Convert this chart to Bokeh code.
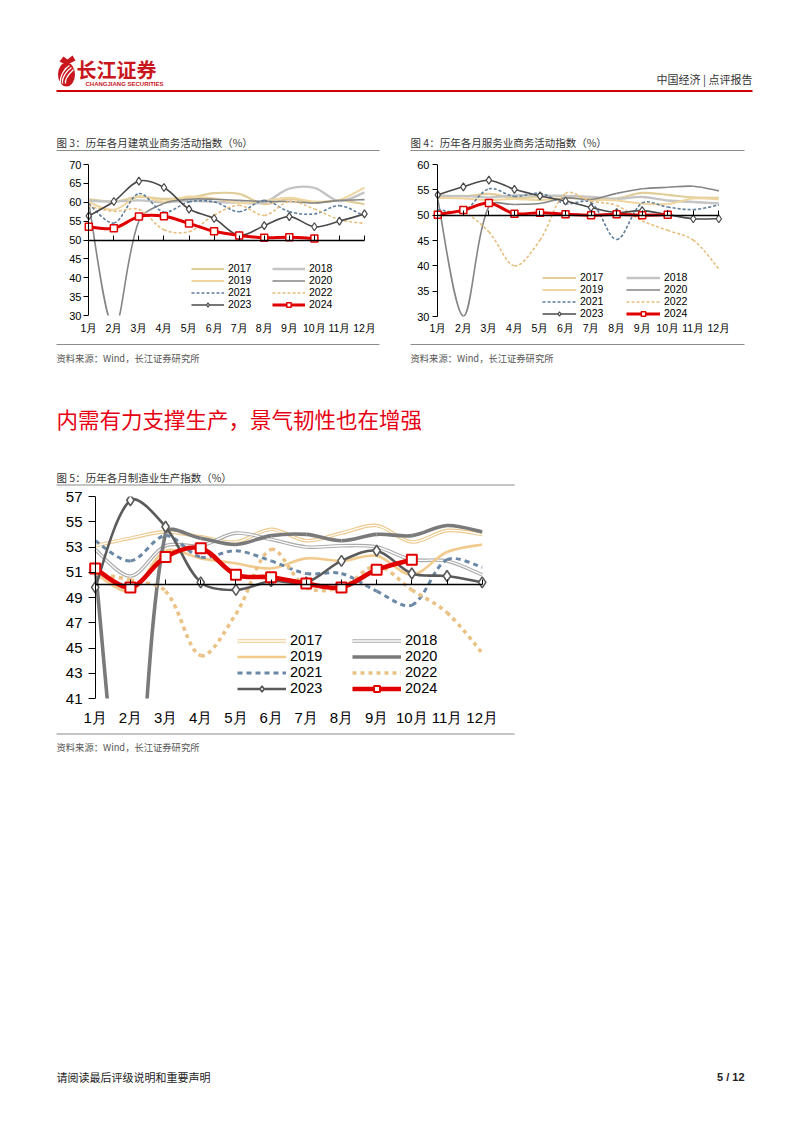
import math
from bokeh.plotting import figure
from bokeh.models import (Range1d, LinearAxis, FixedTicker, Legend, LegendItem,
                          ColumnDataSource, Spacer)
from bokeh.layouts import column, row
from bokeh.core.properties import value
from bokeh.embed import file_html
from bokeh.resources import INLINE

NAN = float("nan")

# ---------------- data ----------------
month_labels = ["1月", "2月", "3月", "4月", "5月", "6月",
                "7月", "8月", "9月", "10月", "11月", "12月"]
years = ["2017", "2018", "2019", "2020", "2021", "2022", "2023", "2024"]

# 图3 建筑业商务活动指数
con_2017 = [60.8, 60.2, 61.4, 60.9, 61.2, 62.4, 62.2, 59.5, 60.9, 59.9, 60.5, 59.5]
con_2018 = [60.4, 60.2, 60.5, 60.0, 60.4, 60.1, 59.9, 60.0, 63.6, 63.8, 60.3, 62.6]
con_2019 = [60.0, 58.0, 61.6, 60.2, 61.5, 61.0, 59.8, 60.3, 61.2, 60.2, 60.6, 63.9]
con_2020 = [59.7, 26.6, 55.1, 59.7, 60.8, 60.8, 60.5, 60.2, 60.2, 59.8, 60.5, 60.7]
con_2021 = [59.6, 54.5, 62.3, 57.4, 60.1, 60.1, 57.5, 60.5, 57.5, 56.9, 59.1, 56.3]
con_2022 = [59.0, 57.6, 58.1, 52.7, 52.2, 56.6, 59.2, 56.5, 60.2, 58.2, 55.4, 54.4]
con_2023 = [56.4, 60.2, 65.6, 63.9, 58.2, 55.7, 51.2, 53.8, 56.2, 53.5, 55.0, 56.9]
con_2024 = [53.5, 53.1, 56.2, 56.3, 54.4, 52.3, 51.2, 50.6, 50.7, 50.4]

# 图4 服务业商务活动指数
ser_2017 = [53.9, 53.7, 54.2, 53.4, 53.6, 53.8, 53.1, 53.3, 54.4, 54.0, 53.5, 53.4]
ser_2018 = [53.7, 53.8, 53.5, 53.9, 53.9, 53.8, 53.6, 53.2, 53.6, 52.9, 52.6, 52.3]
ser_2019 = [53.4, 53.3, 53.0, 53.2, 53.0, 53.4, 53.2, 52.9, 52.3, 52.2, 53.3, 53.1]
ser_2020 = [53.1, 30.1, 51.8, 52.1, 52.3, 53.4, 53.1, 54.3, 55.2, 55.5, 55.7, 54.8]
ser_2021 = [51.1, 50.8, 55.2, 53.7, 54.3, 52.3, 52.5, 45.2, 52.4, 51.6, 51.1, 52.0]
ser_2022 = [50.3, 50.5, 46.7, 40.0, 45.1, 54.3, 52.8, 51.9, 48.9, 47.0, 45.1, 39.4]
ser_2023 = [54.0, 55.6, 56.9, 55.1, 53.8, 52.8, 51.5, 50.5, 50.9, 50.1, 49.3, 49.3]
ser_2024 = [50.1, 51.0, 52.4, 50.3, 50.5, 50.2, 50.0, 50.2, 50.0, 50.1]

# 图5 制造业生产指数
pro_2017 = [53.1, 53.7, 54.2, 53.8, 53.4, 54.4, 53.5, 54.1, 54.7, 53.4, 54.3, 54.0]
pro_2018 = [52.8, 50.7, 53.1, 53.1, 54.1, 53.6, 53.0, 53.1, 53.0, 52.0, 51.9, 50.8]
pro_2019 = [50.9, 49.5, 52.7, 52.1, 51.7, 51.3, 52.1, 51.9, 52.3, 50.8, 52.6, 53.2]
pro_2020 = [51.3, 27.8, 54.1, 53.7, 53.2, 53.9, 54.0, 53.5, 54.0, 53.9, 54.7, 54.2]
pro_2021 = [53.5, 51.9, 53.9, 52.2, 52.7, 51.9, 50.9, 50.9, 49.5, 48.4, 52.0, 51.4]
pro_2022 = [50.9, 50.4, 49.5, 44.4, 47.7, 52.8, 49.8, 49.8, 51.5, 49.6, 47.8, 44.6]
pro_2023 = [49.8, 56.7, 54.6, 50.2, 49.6, 50.3, 50.2, 51.9, 52.7, 50.9, 50.7, 50.2]
pro_2024 = [51.3, 49.8, 52.2, 52.9, 50.8, 50.6, 50.1, 49.8, 51.2, 52.0]

con_ticks = [30, 35, 40, 45, 50, 55, 60, 65, 70]
ser_ticks = [30, 35, 40, 45, 50, 55, 60]
pro_ticks = [41, 43, 45, 47, 49, 51, 53, 55, 57]

construction = dict(zip(years, [con_2017, con_2018, con_2019, con_2020,
                                con_2021, con_2022, con_2023, con_2024]))
services = dict(zip(years, [ser_2017, ser_2018, ser_2019, ser_2020,
                            ser_2021, ser_2022, ser_2023, ser_2024]))
production = dict(zip(years, [pro_2017, pro_2018, pro_2019, pro_2020,
                              pro_2021, pro_2022, pro_2023, pro_2024]))

# ---------------- styles ----------------
CJK = "Noto Sans CJK SC"
LAT = "Liberation Sans"

small_styles = {
    "2017": dict(color="#E1CD98", width=2.2),
    "2018": dict(color="#C4C4C4", width=2.4),
    "2019": dict(color="#EFD6A0", width=2.0),
    "2020": dict(color="#858585", width=1.6),
    "2021": dict(color="#5E7D9A", width=1.6, dash="3 2"),
    "2022": dict(color="#E6BF7F", width=1.6, dash="3 2"),
    "2023": dict(color="#4A4A4A", width=1.6, marker="diamond", msize=8, mlw=1.2),
    "2024": dict(color="#E00000", width=3.0, marker="square", msize=7, mlw=1.5),
}
big_styles = {
    "2017": dict(color="#EDC98E", width=3.6, inner=1.3),
    "2018": dict(color="#ABABAB", width=3.6, inner=1.3),
    "2019": dict(color="#F1CA8C", width=2.6),
    "2020": dict(color="#7A7A7A", width=3.6),
    "2021": dict(color="#6A88A6", width=3.0, dash="5 4"),
    "2022": dict(color="#EBC286", width=3.6, dash="4 4"),
    "2023": dict(color="#5A5A5A", width=2.6, marker="diamond", msize=11, mlw=1.6),
    "2024": dict(color="#E00000", width=4.6, marker="square", msize=10, mlw=2.0),
}


def bezier_data(ys, sx, sy):
    """Smoothed-line rendering: Bezier control points from the monthly values
    (distance-weighted Catmull-Rom, like a spreadsheet 'smoothed line')."""
    xs = list(range(1, len(ys) + 1))
    n = len(ys)
    k = 1.0 / 3.0

    def dist(i, j):
        return math.hypot((xs[j] - xs[i]) * sx, (ys[j] - ys[i]) * sy)

    d = {key: [] for key in ("x0", "y0", "x1", "y1", "cx0", "cy0", "cx1", "cy1")}
    for i in range(n - 1):
        if i == 0:
            cx0 = xs[0] + (xs[1] - xs[0]) / 6.0
            cy0 = ys[0] + (ys[1] - ys[0]) / 6.0
        else:
            w = dist(i, i + 1) / (dist(i - 1, i) + dist(i, i + 1))
            cx0 = xs[i] + (xs[i + 1] - xs[i - 1]) * w * k
            cy0 = ys[i] + (ys[i + 1] - ys[i - 1]) * w * k
        if i + 1 == n - 1:
            cx1 = xs[i + 1] - (xs[i + 1] - xs[i]) / 6.0
            cy1 = ys[i + 1] - (ys[i + 1] - ys[i]) / 6.0
        else:
            w = dist(i, i + 1) / (dist(i, i + 1) + dist(i + 1, i + 2))
            cx1 = xs[i + 1] - (xs[i + 2] - xs[i]) * w * k
            cy1 = ys[i + 1] - (ys[i + 2] - ys[i]) * w * k
        d["x0"].append(xs[i]); d["y0"].append(ys[i])
        d["x1"].append(xs[i + 1]); d["y1"].append(ys[i + 1])
        d["cx0"].append(cx0); d["cy0"].append(cy0)
        d["cx1"].append(cx1); d["cy1"].append(cy1)
    return d


def draw_series(p, ys, st, sx, sy):
    src = ColumnDataSource(bezier_data(ys, sx, sy))
    kw = dict(x0="x0", y0="y0", x1="x1", y1="y1", cx0="cx0", cy0="cy0",
              cx1="cx1", cy1="cy1", source=src)
    dash = st.get("dash", "solid")
    p.bezier(line_color=st["color"], line_width=st["width"], line_dash=dash, **kw)
    leg = [p.line(x=[NAN, NAN], y=[NAN, NAN], line_color=st["color"],
                  line_width=st["width"], line_dash=dash)]
    if "inner" in st:
        p.bezier(line_color="white", line_width=st["inner"], **kw)
        leg.append(p.line(x=[NAN, NAN], y=[NAN, NAN], line_color="white",
                          line_width=st["inner"]))
    if "marker" in st:
        r = p.scatter(x=list(range(1, len(ys) + 1)), y=ys, marker=st["marker"],
                      size=st["msize"], fill_color="white", line_color=st["color"],
                      line_width=st["mlw"])
        leg.append(r)
    return leg


def make_chart(data, styles, fig_left, fig_top, width, height, x1_pg, x12_pg,
               pad, ytop_pg, ybot_pg, ext_b, y_lo, y_hi, yticks, fs_y, fs_x,
               ylab_right_pg, xlab_top_pg, leg_cols_pg, leg_bottom_pg,
               glyph_w, leg_fs, leg_h):
    mb_l = int(round(x1_pg - pad - fig_left))
    frame_left = fig_left + mb_l
    frame_w = int(round(x12_pg + pad - frame_left))
    mb_t = int(round(ytop_pg - fig_top))
    frame_h = int(round(ybot_pg - ytop_pg)) + ext_b
    frame_bottom = fig_top + mb_t + frame_h
    step = (x12_pg - x1_pg) / 11.0
    xs = 1 - (x1_pg - frame_left) / step
    xe = xs + frame_w / step
    ppu = (ybot_pg - ytop_pg) / float(y_hi - y_lo)
    y_start = y_lo - ext_b / ppu
    p = figure(width=width, height=height, x_range=Range1d(xs, xe),
               y_range=Range1d(y_start, y_hi), x_axis_type=None, y_axis_type=None,
               output_backend="svg", toolbar_location=None,
               min_border_left=mb_l, min_border_right=width - mb_l - frame_w,
               min_border_top=mb_t, min_border_bottom=height - mb_t - frame_h,
               frame_align=False)
    p.outline_line_color = None
    p.background_fill_color = "white"
    p.border_fill_color = "white"

    tick_len = int(round(x1_pg - frame_left))
    yaxis = LinearAxis(ticker=FixedTicker(ticks=yticks), axis_line_color=None,
                       major_tick_in=tick_len, major_tick_out=0,
                       minor_tick_line_color=None, major_tick_line_color="black",
                       major_label_text_font=LAT,
                       major_label_text_font_size=f"{fs_y}px",
                       major_label_text_color="black",
                       major_label_standoff=int(round(frame_left - ylab_right_pg)))
    p.add_layout(yaxis, "left")
    yline = LinearAxis(ticker=FixedTicker(ticks=yticks), fixed_location=1,
                       bounds=(y_lo, y_hi), axis_line_color="black",
                       axis_line_width=1, major_tick_in=0, major_tick_out=0,
                       major_tick_line_color=None, minor_tick_line_color=None,
                       major_label_text_color=None,
                       major_label_text_font_size="1px", major_label_standoff=0)
    p.add_layout(yline, "left")

    xlab = LinearAxis(ticker=FixedTicker(ticks=list(range(1, 13))),
                      major_label_overrides={i + 1: m for i, m in enumerate(month_labels)},
                      axis_line_color=None, major_tick_line_color=None,
                      major_tick_in=0, major_tick_out=0,
                      minor_tick_line_color=None, major_label_text_font=LAT,
                      major_label_text_font_size=f"{fs_x}px",
                      major_label_text_color="black",
                      major_label_standoff=int(round(xlab_top_pg - frame_bottom)))
    p.add_layout(xlab, "below")
    xline = LinearAxis(ticker=FixedTicker(ticks=list(range(1, 13))),
                       fixed_location=50, bounds=(1, 12), major_tick_in=5,
                       major_tick_out=0, minor_tick_line_color=None,
                       axis_line_color="black", axis_line_width=1.4,
                       major_tick_line_color="black",
                       major_label_text_color=None,
                       major_label_text_font_size="1px",
                       major_label_standoff=0)
    p.add_layout(xline, "below")

    legs = {}
    for y in years:
        legs[y] = draw_series(p, data[y], styles[y], step, ppu)

    cols = [["2017", "2019", "2021", "2023"], ["2018", "2020", "2022", "2024"]]
    for cx, keys in zip(leg_cols_pg, cols):
        lg = Legend(items=[LegendItem(label=k, renderers=legs[k]) for k in keys],
                    location=(cx - frame_left, frame_bottom - leg_bottom_pg),
                    orientation="vertical", padding=0,
                    margin=0, spacing=0, glyph_width=glyph_w, glyph_height=leg_h,
                    label_height=leg_h, label_standoff=4,
                    label_text_font=LAT, label_text_font_size=f"{leg_fs}px",
                    label_text_line_height=1.0, label_text_color="black",
                    border_line_alpha=0, background_fill_alpha=0)
        p.add_layout(lg)
    return p


def canvas(y_top, height):
    c = figure(width=786, height=height, x_range=Range1d(8, 794),
               y_range=Range1d(y_top + height, y_top), x_axis_type=None,
               y_axis_type=None, output_backend="svg", toolbar_location=None,
               min_border=0, frame_align=False)
    c.outline_line_color = None
    c.background_fill_color = "white"
    c.border_fill_color = "white"
    return c


def txt(c, x, y, s, size, color, align="left", bold=False, font=CJK):
    c.text(x=[x], y=[y], text=[s], text_font=value(font),
           text_font_size=value(f"{size}px"), text_color=color,
           text_align=align, text_baseline="middle",
           text_font_style="bold" if bold else "normal")


def hline(c, x0, x1, y, color, w):
    c.line(x=[x0, x1], y=[y, y], line_color=color, line_width=w)


GRAY_LINE = "#8C8C8C"
TITLE_C = "#333333"
SRC_C = "#555555"

# ---- band A: header and chart titles (page y 8..160)
A = canvas(8, 152)
A.ellipse(x=[67], y=[75], width=17, height=24, fill_color="#C8161D", line_color=None)
A.bezier(x0=[61, 63, 66], y0=[84, 84, 84], x1=[70, 72, 74], y1=[66, 68, 70],
         cx0=[60, 62, 65], cy0=[76, 77, 78], cx1=[66, 69, 72], cy1=[68, 70, 72],
         line_color="white", line_width=1.3)
A.patch(x=[60, 64, 68, 73, 76, 70, 64], y=[62, 57, 60, 56, 61, 64, 64],
        fill_color="#C8161D", line_color=None)
txt(A, 77, 70, "长江证券", 20, "#C8161D", bold=True)
txt(A, 86, 84, "CHANGJIANG SECURITIES", 6, "#C8161D", bold=True, font=LAT)
txt(A, 753, 79, "中国经济 | 点评报告", 11, "#333333", align="right")
hline(A, 57, 753, 91.5, "#CC0000", 2)
txt(A, 57, 143, "图 3：历年各月建筑业商务活动指数（%）", 10.5, TITLE_C)
txt(A, 411, 143, "图 4：历年各月服务业商务活动指数（%）", 10.5, TITLE_C)
hline(A, 57, 380, 151, GRAY_LINE, 1.2)
hline(A, 411, 745, 151, GRAY_LINE, 1.2)

# ---- band B: charts 3 and 4 (page y 160..340)
p3 = make_chart(construction, small_styles, 8, 160, 392, 180, 89.3, 365.0, 5,
                165, 316, 0, 30, 70, con_ticks, 11, 10.5, 82, 322,
                [192, 273], 311, 33, 10.5, 11)
p4 = make_chart(services, small_styles, 400, 160, 394, 180, 438.3, 719.3, 5,
                165, 317, 6, 30, 60, ser_ticks, 11, 10.5, 430, 322,
                [543, 627], 320, 34, 10.5, 11)

# ---- band C: sources, heading, chart 5 title (page y 340..490)
C = canvas(340, 150)
hline(C, 57, 380, 345, GRAY_LINE, 1.2)
hline(C, 411, 745, 345, GRAY_LINE, 1.2)
txt(C, 57, 358, "资料来源：Wind，长江证券研究所", 9.3, SRC_C)
txt(C, 411, 358, "资料来源：Wind，长江证券研究所", 9.3, SRC_C)
txt(C, 57, 419, "内需有力支撑生产，景气韧性也在增强", 21.5, "#E60012")
txt(C, 57, 478, "图 5：历年各月制造业生产指数（%）", 10.5, TITLE_C)
hline(C, 57, 515, 485.5, GRAY_LINE, 1.2)

# ---- band D: chart 5 (page y 490..730)
p5 = make_chart(production, big_styles, 8, 490, 786, 240, 95.7, 482.7, 7,
                497, 699, 0, 41, 57, pro_ticks, 15, 15, 83, 709,
                [238, 353], 697, 49, 14.5, 15)

# ---- band E: source and footer (page y 730..1120)
E = canvas(730, 390)
hline(E, 57, 515, 734.5, GRAY_LINE, 1.2)
txt(E, 57, 747, "资料来源：Wind，长江证券研究所", 9.3, SRC_C)
txt(E, 57, 1077, "请阅读最后评级说明和重要声明", 11, "#222222")
txt(E, 745, 1077, "5 / 12", 11, "#222222", align="right", bold=True, font=LAT)

page = column(A, row(p3, p4, spacing=0), C, p5, E, spacing=0)
layout = column(Spacer(width=1, height=7),
                row(Spacer(width=7, height=1), page, spacing=0), spacing=0)

open("out.html", "w").write(file_html(layout, INLINE))
